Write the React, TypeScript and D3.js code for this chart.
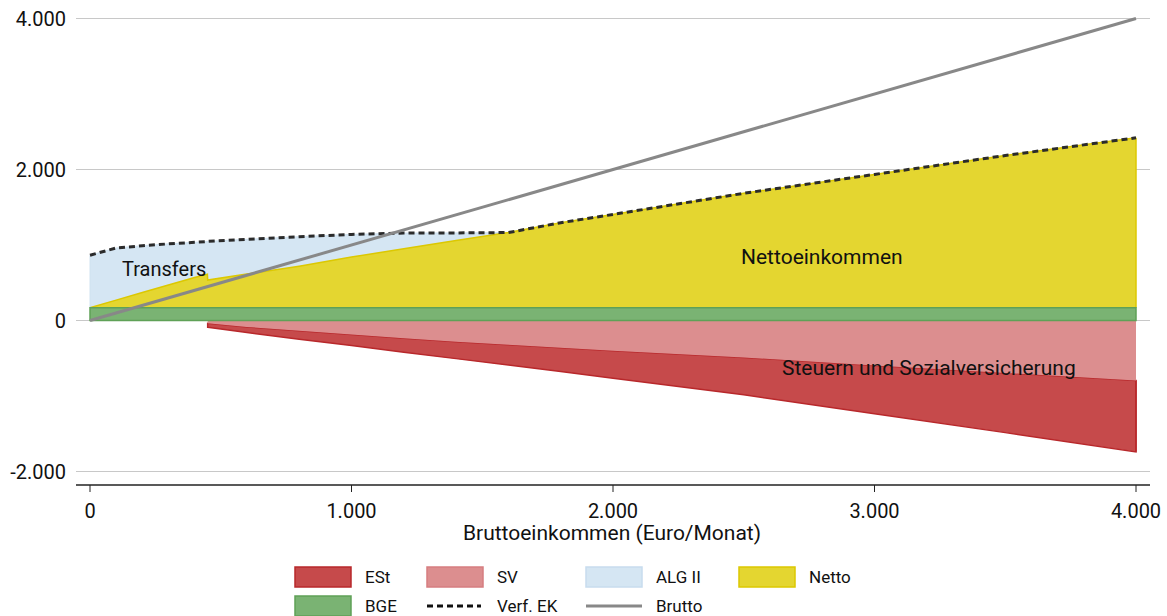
import React from "react";
import * as d3 from "d3";

// Gross income grid (Euro/Monat)
const incomeX = [0, 100, 200, 300, 400, 449, 450, 600, 800, 1000, 1200, 1400, 1600, 1800, 2000, 2500, 3000, 3500, 4000];
// Basic income (BGE) level
const bgeX = [0, 4000];
const bgeValues = [170, 170];
// Net income (incl. BGE) top edge
const nettoValues = [170, 270, 370, 470, 570, 612, 535, 615, 720, 840, 950, 1060, 1165, 1295, 1405, 1685, 1935, 2185, 2420];
// Disposable income (Verf. EK)
const verfValues = [865, 960, 990, 1015, 1035, 1045, 1048, 1075, 1110, 1140, 1158, 1160, 1165, 1295, 1405, 1685, 1935, 2185, 2420];
// Taxes / social insurance (start at 450)
const taxX = [450, 600, 800, 1000, 1200, 1400, 1600, 1800, 2000, 2500, 3000, 3500, 4000];
const svValues = [38, 85, 135, 185, 235, 280, 320, 360, 400, 490, 595, 695, 795];
const estValues = [52, 75, 112, 145, 185, 225, 270, 315, 365, 495, 640, 790, 945];
// Gross line
const bruttoX = [0, 4000];
const bruttoValues = [0, 4000];

const xTicks = [0, 1000, 2000, 3000, 4000];
const yTicks = [-2000, 0, 2000, 4000];

const W = 1167;
const H = 616;
const FONT = "Roboto, 'Open Sans', sans-serif";

const fmt = (v: number) => (v < 0 ? "-" : "") + d3.format(",")(Math.abs(v)).replace(/,/g, ".");

export default function App() {
  const x = d3.scaleLinear().domain([0, 4000]).range([90, 1136]);
  const y = d3.scaleLinear().domain([-2000, 4000]).range([471.5, 18.5]);

  const est = taxX.map((v, i) => ({ x: v, y0: -svValues[i], y1: -(svValues[i] + estValues[i]) }));
  const sv = taxX.map((v, i) => ({ x: v, y0: 0, y1: -svValues[i] }));
  const bge = bgeX.map((v, i) => ({ x: v, y0: 0, y1: bgeValues[i] }));
  const netto = incomeX.map((v, i) => ({ x: v, y0: 170, y1: nettoValues[i] }));
  const alg = incomeX.map((v, i) => ({ x: v, y0: nettoValues[i], y1: verfValues[i] }));
  const verf = incomeX.map((v, i) => ({ x: v, y: verfValues[i] }));
  const brutto = bruttoX.map((v, i) => ({ x: v, y: bruttoValues[i] }));

  const area = d3
    .area<{ x: number; y0: number; y1: number }>()
    .x((d) => x(d.x))
    .y0((d) => y(d.y0))
    .y1((d) => y(d.y1));
  const line = d3
    .line<{ x: number; y: number }>()
    .x((d) => x(d.x))
    .y((d) => y(d.y));
  const topLine = d3
    .line<{ x: number; y0: number; y1: number }>()
    .x((d) => x(d.x))
    .y((d) => y(d.y1));

  const legendRows = [
    [
      { type: "rect", label: "ESt", fill: "#c64a4b", stroke: "#b8282b" },
      { type: "rect", label: "SV", fill: "#dc8e8f", stroke: "#d67d80" },
      { type: "rect", label: "ALG II", fill: "#d5e6f3", stroke: "#c7dcee" },
      { type: "rect", label: "Netto", fill: "#e4d630", stroke: "#dcc800" },
    ],
    [
      { type: "rect", label: "BGE", fill: "#7ab373", stroke: "#5fa157" },
      { type: "dash", label: "Verf. EK" },
      { type: "line", label: "Brutto" },
    ],
  ];
  const colX = [295, 427, 586, 739];
  const rowY = [577, 606];

  const lastTax = est[est.length - 1];

  return (
    <svg
      width={W}
      height={H}
      style={{ position: "absolute", left: 0, top: 0, background: "#fff" }}
      fontFamily={FONT}
    >
      {/* gridlines */}
      {yTicks.map((t) => (
        <g key={t}>
          <line x1={76} x2={1150} y1={y(t)} y2={y(t)} stroke="#c8c8c8" strokeWidth={1} />
          <text x={66} y={y(t)} dy="0.35em" textAnchor="end" fontSize={20} fill="#111">
            {fmt(t)}
          </text>
        </g>
      ))}

      {/* negative areas */}
      <path d={area(est) || ""} fill="#c64a4b" stroke="#b8282b" strokeWidth={1.5} />
      <line
        x1={x(lastTax.x)}
        x2={x(lastTax.x)}
        y1={y(lastTax.y0)}
        y2={y(lastTax.y1)}
        stroke="#b8282b"
        strokeWidth={1.5}
      />
      <path d={area(sv) || ""} fill="#dc8e8f" />

      {/* ALG II */}
      <path d={area(alg) || ""} fill="#d5e6f3" stroke="#d0e2f0" strokeWidth={1} />
      {/* Netto */}
      <path d={area(netto) || ""} fill="#e4d630" />
      <path d={topLine(netto) || ""} fill="none" stroke="#dcc800" strokeWidth={1.5} />
      <line
        x1={x(4000)}
        x2={x(4000)}
        y1={y(170)}
        y2={y(nettoValues[nettoValues.length - 1])}
        stroke="#dcc800"
        strokeWidth={1.5}
      />
      {/* BGE */}
      <path d={area(bge) || ""} fill="#7ab373" stroke="#5fa157" strokeWidth={1.5} />

      {/* Verf EK dashed */}
      <path d={line(verf) || ""} fill="none" stroke="#2b2b2b" strokeWidth={3} strokeDasharray="6,4" />
      {/* Brutto */}
      <path d={line(brutto) || ""} fill="none" stroke="#888888" strokeWidth={3} />

      {/* annotations */}
      <text x={122} y={276} fontSize={20} fill="#111">
        Transfers
      </text>
      <text x={741} y={264} fontSize={21} fill="#111">
        Nettoeinkommen
      </text>
      <text x={782} y={375} fontSize={21} fill="#111">
        Steuern und Sozialversicherung
      </text>

      {/* x axis */}
      <line x1={76} x2={1150} y1={485} y2={485} stroke="#222" strokeWidth={1.5} />
      {xTicks.map((t) => (
        <g key={t}>
          <line x1={x(t)} x2={x(t)} y1={485} y2={492} stroke="#222" strokeWidth={1} />
          <text x={x(t)} y={518} textAnchor="middle" fontSize={20} fill="#111">
            {fmt(t)}
          </text>
        </g>
      ))}
      <text x={612} y={540} textAnchor="middle" fontSize={21} fill="#111">
        Bruttoeinkommen (Euro/Monat)
      </text>

      {/* legend */}
      {legendRows.map((row, ri) =>
        row.map((item, ci) => {
          const lx = colX[ci];
          const ly = rowY[ri];
          return (
            <g key={`${ri}-${ci}`}>
              {item.type === "rect" && (
                <rect x={lx} y={ly - 10} width={56} height={20} fill={item.fill} stroke={item.stroke} strokeWidth={1.5} />
              )}
              {item.type === "dash" && (
                <line x1={lx} x2={lx + 54} y1={ly} y2={ly} stroke="#111" strokeWidth={3} strokeDasharray="6,4" />
              )}
              {item.type === "line" && (
                <line x1={lx} x2={lx + 56} y1={ly} y2={ly} stroke="#888888" strokeWidth={3} />
              )}
              <text x={lx + 70} y={ly} dy="0.35em" fontSize={17} fill="#111">
                {item.label}
              </text>
            </g>
          );
        })
      )}
    </svg>
  );
}
